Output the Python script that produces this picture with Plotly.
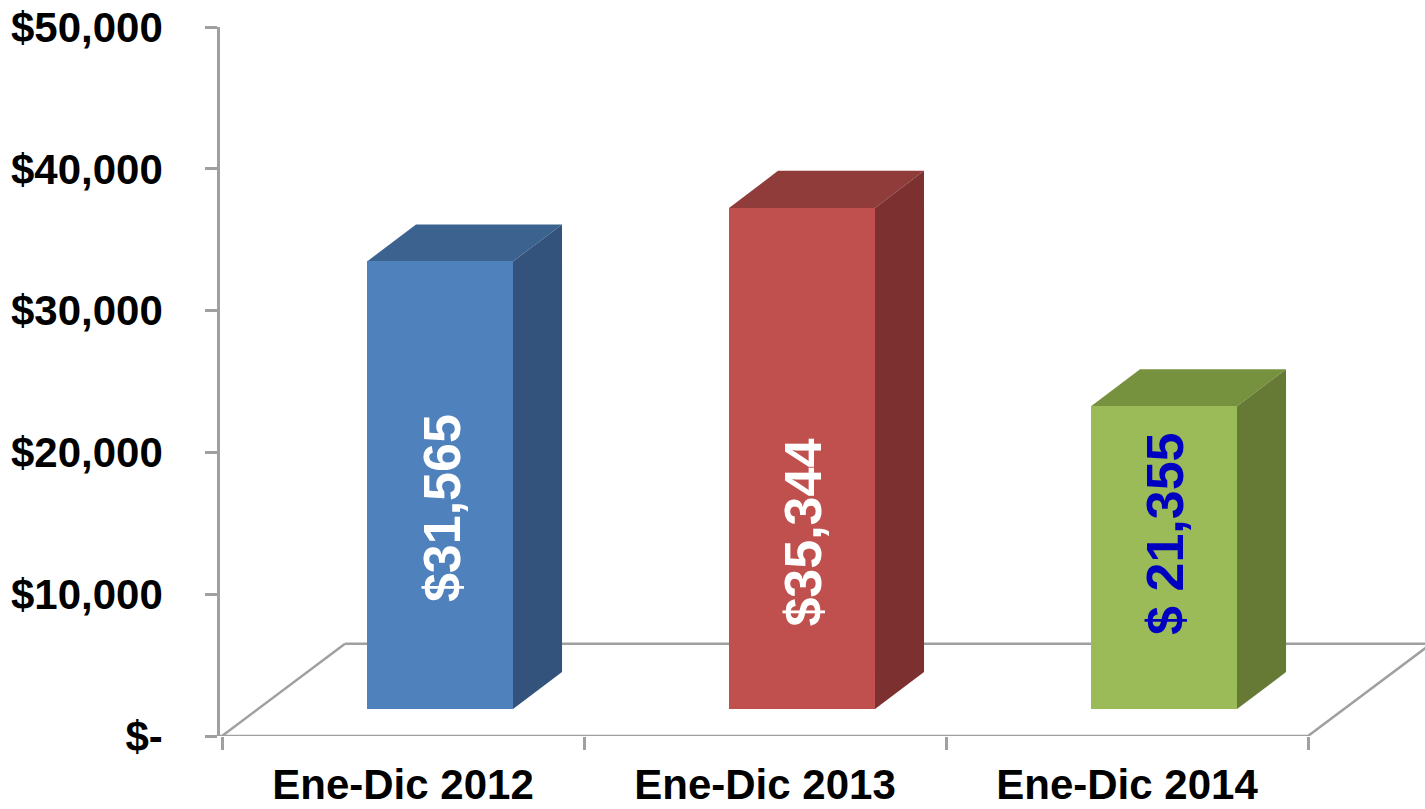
import plotly.graph_objects as go

# ---------------- data ----------------
categories = ["Ene-Dic 2012", "Ene-Dic 2013", "Ene-Dic 2014"]
values = [31565, 35344, 21355]
value_labels = ["$31,565", "$35,344", "$ 21,355"]
y_tick_vals = [0, 10000, 20000, 30000, 40000, 50000]
y_tick_text = ["$-", "$10,000", "$20,000", "$30,000", "$40,000", "$50,000"]

# ---------------- style ----------------
front_colors = ["#4F81BD", "#C0504D", "#9BBB59"]
top_colors = ["#3C6390", "#8F3C3A", "#77923F"]
side_colors = ["#33537C", "#7C302F", "#667A36"]
label_colors = ["#FFFFFF", "#FFFFFF", "#0000C0"]
label_frac = [0.45, 0.353, 0.58]     # vertical placement of label within bar
GRAY = "#A0A0A0"
FONT = "Liberation Sans, Arial, sans-serif"

XMIN, XMAX = -0.50552, 2.8232
BASE = 1900          # floor height of bar front face
BAR_OFF, BAR_W = -0.0994, 0.4033
DXB, DYB = 0.1354, 2610     # bar depth
DXF, DYF = 0.3398, 6500     # floor depth

x = list(range(len(categories)))

fig = go.Figure()
fig.add_trace(go.Bar(
    x=x, y=values, base=[BASE] * len(values),
    offset=BAR_OFF, width=BAR_W,
    marker=dict(color=front_colors, line=dict(width=0)),
    hoverinfo="skip", showlegend=False,
))

shapes = []
# floor
line = dict(color=GRAY, width=2.5)
n = len(categories)
shapes.append(dict(type="line", xref="x", yref="y", x0=XMIN, y0=0, x1=n - 0.5, y1=0, line=line, layer="below"))
shapes.append(dict(type="line", xref="x", yref="y", x0=-0.5, y0=0, x1=-0.5 + DXF, y1=DYF, line=line, layer="below"))
shapes.append(dict(type="line", xref="x", yref="y", x0=-0.5 + DXF, y0=DYF, x1=n - 0.5 + DXF, y1=DYF, line=line, layer="below"))
shapes.append(dict(type="line", xref="x", yref="y", x0=n - 0.5, y0=0, x1=n - 0.5 + DXF, y1=DYF, line=line, layer="below"))

# bar top and side faces
for i, v in enumerate(values):
    L = i + BAR_OFF
    R = L + BAR_W
    top = BASE + v
    shapes.append(dict(
        type="path", xref="x", yref="y", layer="below",
        path=f"M {L},{top} L {L + DXB},{top + DYB} L {R + DXB},{top + DYB} L {R},{top} Z",
        fillcolor=top_colors[i], line=dict(width=0),
    ))
    shapes.append(dict(
        type="path", xref="x", yref="y", layer="below",
        path=f"M {R},{BASE} L {R},{top} L {R + DXB},{top + DYB} L {R + DXB},{BASE + DYB} Z",
        fillcolor=side_colors[i], line=dict(width=0),
    ))

annotations = []
for i, v in enumerate(values):
    annotations.append(dict(
        x=i + BAR_OFF + BAR_W / 2 + 0.004, y=BASE + v * label_frac[i],
        xref="x", yref="y", text=value_labels[i], showarrow=False,
        textangle=-90, font=dict(family=FONT, size=52, color=label_colors[i], weight="bold"),
    ))

fig.update_layout(
    width=1425, height=809,
    margin=dict(l=220, r=0, t=27, b=73, autoexpand=False),
    paper_bgcolor="white", plot_bgcolor="white",
    shapes=shapes, annotations=annotations,
    bargap=0,
    xaxis=dict(
        range=[XMIN, XMAX], showgrid=False, zeroline=False, showline=False,
        automargin=False,
        tickvals=x, ticktext=categories, ticks="",
        tickfont=dict(family=FONT, size=42, color="black", weight="bold"),
        ticklabelstandoff=20, ticklabeloverflow="allow",
        minor=dict(tickvals=[i - 0.5 for i in range(n + 1)], ticks="outside",
                   ticklen=13, tickwidth=2.5, tickcolor=GRAY),
    ),
    yaxis=dict(
        range=[0, 50000], showgrid=False, zeroline=False,
        automargin=False,
        showline=True, linecolor=GRAY, linewidth=2.5,
        tickvals=y_tick_vals, ticktext=y_tick_text,
        ticks="outside", ticklen=12, tickwidth=2.5, tickcolor=GRAY,
        tickfont=dict(family=FONT, size=42, color="black", weight="bold"),
        ticklabelstandoff=34, ticklabeloverflow="allow",
    ),
)

fig.write_html("out.html", config={"displayModeBar": False},
               post_script="document.body.style.margin='0px';")
